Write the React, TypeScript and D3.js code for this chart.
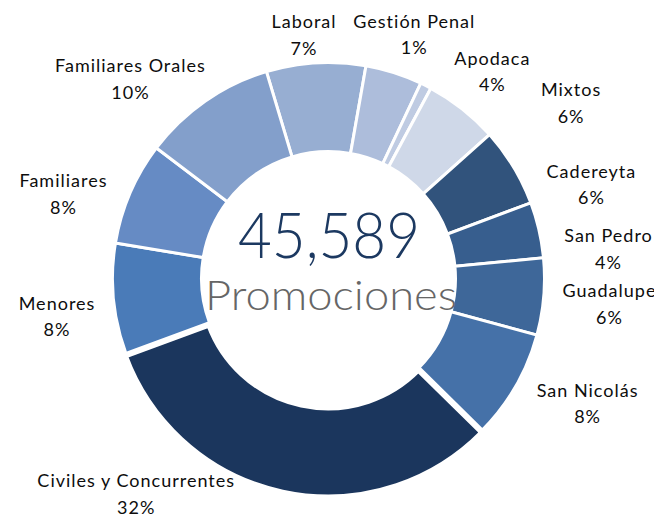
import React from "react";
import * as d3 from "d3";

// ---- data ----
const categories = [
  "Laboral",
  "Apodaca",
  "Gestión Penal",
  "Mixtos",
  "Cadereyta",
  "San Pedro",
  "Guadalupe",
  "San Nicolás",
  "Civiles y Concurrentes",
  "Menores",
  "Familiares",
  "Familiares Orales",
];
const values = [3381, 1937, 380, 2520, 2697, 1900, 2621, 3723, 14575, 3774, 3508, 4573];
const centerCaption = "Promociones";
const explodedCategory = "Civiles y Concurrentes";

// ---- styles / layout ----
const colors = [
  "#97aed2",
  "#adbddb",
  "#bfcbe2",
  "#cfd8e8",
  "#31537c",
  "#375e8e",
  "#3e6799",
  "#4571a8",
  "#1b365d",
  "#4a7bb8",
  "#668bc4",
  "#839fcb",
];
// label anchor (first line baseline centre), polar around the doughnut centre
const labelAngleDeg = [-5.7, 37.4, 18.8, 53.0, 69.0, 82.6, 93.8, 114.6, 222.7, 263.4, 289.0, 316.1];
const labelRadius = [251.7, 268.9, 264.7, 303.1, 281.1, 281.9, 281.1, 284.4, 284.3, 273.8, 280.8, 286.4];

const W = 654;
const H = 516;
const CX = 328.5;
const CY = 278.5;
const R_OUT = 216;
const R_IN = 127;
const START_DEG = -16.7;

export default function App() {
  const total = d3.sum(values);
  const rad = (d: number) => (d * Math.PI) / 180;
  const pie = d3
    .pie<number>()
    .sort(null)
    .value((d) => d)
    .startAngle(rad(START_DEG))
    .endAngle(rad(START_DEG) + 2 * Math.PI);
  const arcs = pie(values);
  const arc = d3.arc<d3.PieArcDatum<number>>().innerRadius(R_IN).outerRadius(R_OUT);
  const pct = d3.format(".0%");
  const fmt = d3.format(",");

  return (
    <svg
      width={W}
      height={H}
      style={{ position: "absolute", left: 0, top: 0, background: "#fff" }}
      fontFamily="Lato, 'Open Sans', sans-serif"
    >
      <g transform={`translate(${CX},${CY})`}>
        {arcs.map((a, i) => {
          const exploded = categories[i] === explodedCategory;
          const mid = (a.startAngle + a.endAngle) / 2;
          const off = exploded ? 2.5 : 0;
          return (
            <path
              key={categories[i]}
              d={arc(a) || ""}
              fill={colors[i]}
              stroke="#fff"
              strokeWidth={exploded ? 5 : 3}
              strokeLinejoin="miter"
              transform={`translate(${off * Math.sin(mid)},${-off * Math.cos(mid)})`}
            />
          );
        })}
        {arcs.map((a, i) => {
          const ang = rad(labelAngleDeg[i]);
          const x = labelRadius[i] * Math.sin(ang) + 0.5;
          const y = -labelRadius[i] * Math.cos(ang);
          return (
            <text
              key={"l" + categories[i]}
              x={x}
              y={y}
              textAnchor="middle"
              fontSize={18}
              letterSpacing={1}
              fill="#0d0d0d"
            >
              <tspan x={x} y={y}>
                {categories[i]}
              </tspan>
              <tspan x={x} y={y + 26.5}>
                {pct(values[i] / total)}
              </tspan>
            </text>
          );
        })}
        <text
          x={0.5}
          y={-20.5}
          textAnchor="middle"
          fontSize={63}
          fontWeight={300}
          fill="#1c3961"
          textLength={182}
          lengthAdjust="spacingAndGlyphs"
        >
          {fmt(total)}
        </text>
        <text
          x={2.5}
          y={31.5}
          textAnchor="middle"
          fontSize={42}
          fontWeight={300}
          fill="#666666"
          textLength={252}
          lengthAdjust="spacingAndGlyphs"
        >
          {centerCaption}
        </text>
      </g>
    </svg>
  );
}
